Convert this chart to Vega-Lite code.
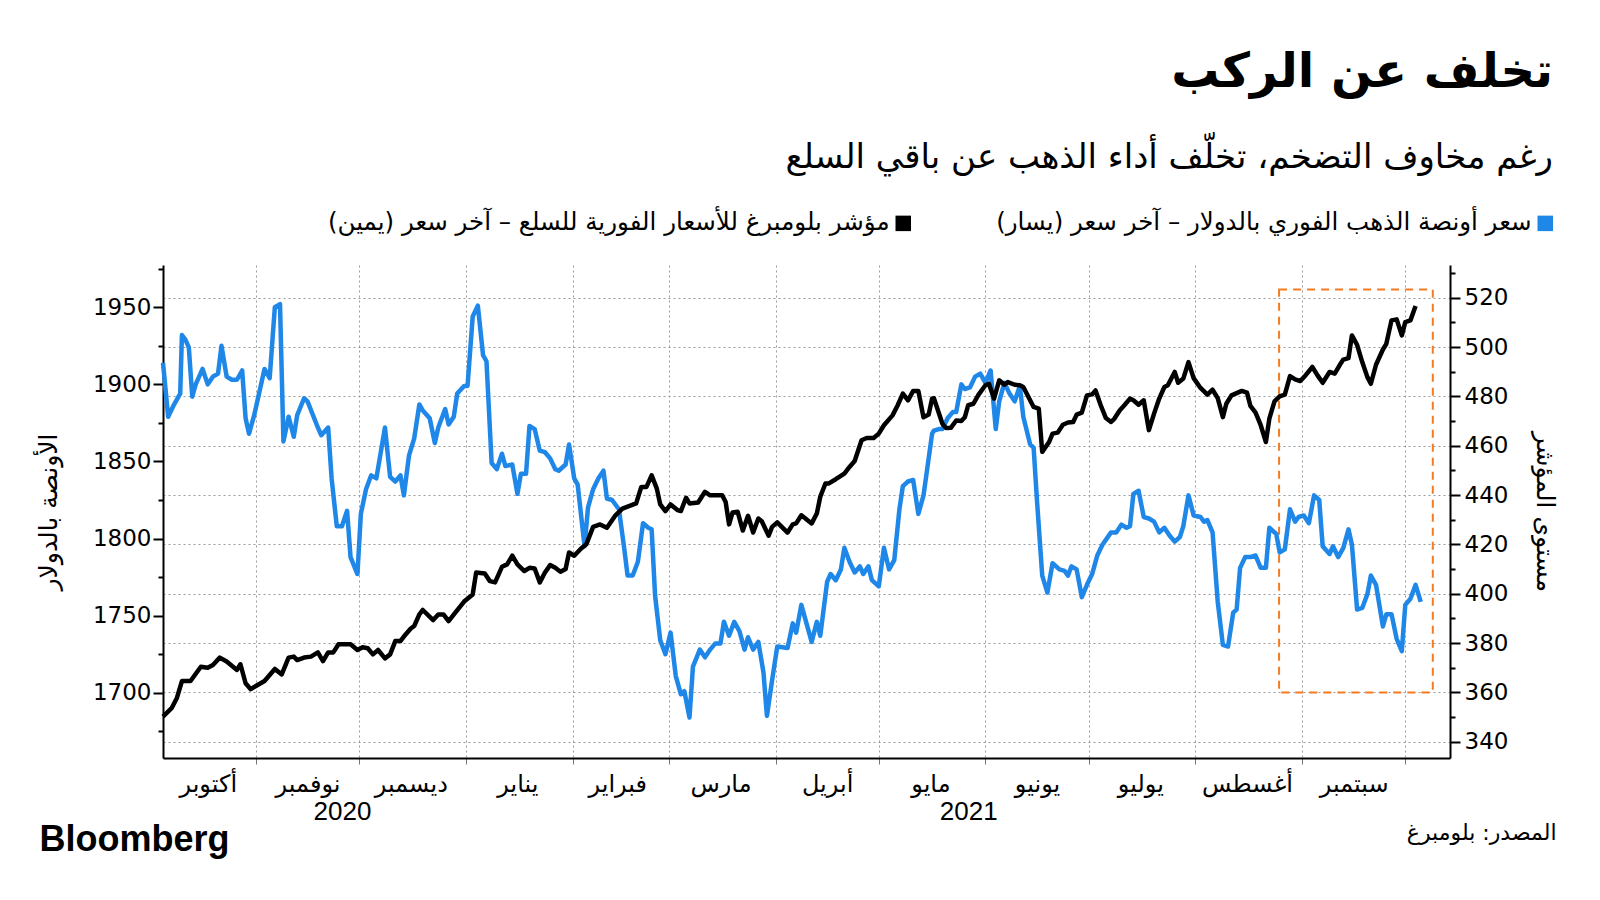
{
"$schema": "https://vega.github.io/schema/vega-lite/v6.json",
"width": 1287, "height": 493,
"autosize": {"type": "none"},
"padding": {"left": 163, "top": 265, "right": 150, "bottom": 142},
"background": "white",
"config": {"view": {"stroke": null}, "font": "DejaVu Sans"},
"title": {"text": "تخلف عن الركب", "subtitle": "رغم مخاوف التضخم، تخلّف أداء الذهب عن باقي السلع", "anchor": "end", "frame": "group", "dx": 103, "offset": 36, "font": "DejaVu Sans", "fontSize": 48, "fontWeight": "bold", "color": "black", "subtitleFont": "DejaVu Sans", "subtitleFontSize": 34, "subtitleColor": "black", "subtitlePadding": 44},
"datasets": {
"box": [{"x1": "2021-08-25T08:00", "x2": "2021-10-09T00:00", "y1": 360, "y2": 523.3}],
"gold": [
{"d":"2020-10-05T00:00","v":1914},{"d":"2020-10-06T12:00","v":1879},{"d":"2020-10-08T00:00","v":1886},{"d":"2020-10-10T00:00","v":1894},{"d":"2020-10-10T12:00","v":1932},{"d":"2020-10-11T12:00","v":1929},{"d":"2020-10-12T12:00","v":1924},{"d":"2020-10-13T12:00","v":1892},{"d":"2020-10-14T12:00","v":1900},{"d":"2020-10-16T12:00","v":1910},{"d":"2020-10-18T00:00","v":1900},{"d":"2020-10-19T12:00","v":1905},{"d":"2020-10-21T00:00","v":1907},{"d":"2020-10-22T00:00","v":1925},{"d":"2020-10-23T12:00","v":1905},{"d":"2020-10-25T00:00","v":1903},{"d":"2020-10-26T12:00","v":1903},{"d":"2020-10-28T00:00","v":1909},{"d":"2020-10-29T00:00","v":1878},{"d":"2020-10-30T00:00","v":1868},{"d":"2020-10-31T12:00","v":1880},{"d":"2020-11-03T12:00","v":1910},{"d":"2020-11-05T00:00","v":1904},{"d":"2020-11-06T12:00","v":1950},{"d":"2020-11-08T00:00","v":1952},{"d":"2020-11-09T00:00","v":1863},{"d":"2020-11-10T12:00","v":1879},{"d":"2020-11-12T00:00","v":1866},{"d":"2020-11-13T00:00","v":1880},{"d":"2020-11-15T00:00","v":1891},{"d":"2020-11-16T00:00","v":1889},{"d":"2020-11-19T00:00","v":1872},{"d":"2020-11-20T00:00","v":1867},{"d":"2020-11-22T00:00","v":1872},{"d":"2020-11-23T00:00","v":1839},{"d":"2020-11-24T12:00","v":1808},{"d":"2020-11-26T00:00","v":1808},{"d":"2020-11-27T12:00","v":1818},{"d":"2020-11-28T12:00","v":1788},{"d":"2020-11-30T12:00","v":1777},{"d":"2020-12-01T12:00","v":1816},{"d":"2020-12-03T00:00","v":1832},{"d":"2020-12-04T12:00","v":1841},{"d":"2020-12-06T00:00","v":1839},{"d":"2020-12-08T12:00","v":1872},{"d":"2020-12-10T00:00","v":1840},{"d":"2020-12-11T12:00","v":1837},{"d":"2020-12-13T00:00","v":1841},{"d":"2020-12-14T00:00","v":1828},{"d":"2020-12-15T12:00","v":1854},{"d":"2020-12-17T00:00","v":1865},{"d":"2020-12-18T12:00","v":1887},
{"d":"2020-12-19T12:00","v":1883},{"d":"2020-12-21T12:00","v":1878},{"d":"2020-12-23T00:00","v":1862},{"d":"2020-12-24T00:00","v":1872},{"d":"2020-12-26T00:00","v":1884},{"d":"2020-12-27T00:00","v":1874},{"d":"2020-12-28T12:00","v":1879},{"d":"2020-12-29T12:00","v":1894},{"d":"2020-12-31T12:00","v":1899},{"d":"2021-01-01T12:00","v":1899},{"d":"2021-01-03T00:00","v":1944},{"d":"2021-01-04T12:00","v":1951},{"d":"2021-01-06T00:00","v":1919},{"d":"2021-01-07T00:00","v":1915},{"d":"2021-01-08T12:00","v":1849},{"d":"2021-01-10T00:00","v":1845},{"d":"2021-01-11T12:00","v":1855},{"d":"2021-01-12T12:00","v":1847},{"d":"2021-01-14T12:00","v":1848},{"d":"2021-01-16T00:00","v":1829},{"d":"2021-01-17T00:00","v":1842},{"d":"2021-01-18T12:00","v":1842},{"d":"2021-01-19T12:00","v":1873},{"d":"2021-01-21T00:00","v":1871},{"d":"2021-01-22T12:00","v":1857},{"d":"2021-01-24T00:00","v":1856},{"d":"2021-01-25T12:00","v":1852},{"d":"2021-01-27T00:00","v":1845},{"d":"2021-01-28T00:00","v":1844},{"d":"2021-01-30T00:00","v":1848},{"d":"2021-01-31T00:00","v":1861},{"d":"2021-02-01T12:00","v":1839},{"d":"2021-02-02T12:00","v":1835},{"d":"2021-02-04T12:00","v":1795},{"d":"2021-02-05T12:00","v":1820},{"d":"2021-02-07T00:00","v":1832},{"d":"2021-02-08T12:00","v":1839},{"d":"2021-02-10T00:00","v":1844},{"d":"2021-02-11T00:00","v":1826},{"d":"2021-02-12T12:00","v":1825},{"d":"2021-02-14T12:00","v":1819},{"d":"2021-02-16T00:00","v":1794},{"d":"2021-02-17T00:00","v":1776},{"d":"2021-02-18T12:00","v":1776},{"d":"2021-02-20T00:00","v":1785},{"d":"2021-02-21T12:00","v":1810},{"d":"2021-02-23T00:00","v":1807},{"d":"2021-02-24T00:00","v":1806},{"d":"2021-02-25T00:00","v":1763},{"d":"2021-02-26T12:00","v":1734},{"d":"2021-02-28T00:00","v":1725},{"d":"2021-03-01T12:00","v":1739},
{"d":"2021-03-03T00:00","v":1711},{"d":"2021-03-04T12:00","v":1699},{"d":"2021-03-05T12:00","v":1701},{"d":"2021-03-07T00:00","v":1684},{"d":"2021-03-08T00:00","v":1717},{"d":"2021-03-10T00:00","v":1728},{"d":"2021-03-11T12:00","v":1723},{"d":"2021-03-13T00:00","v":1728},{"d":"2021-03-14T12:00","v":1732},{"d":"2021-03-16T00:00","v":1732},{"d":"2021-03-17T00:00","v":1746},{"d":"2021-03-18T12:00","v":1737},{"d":"2021-03-20T00:00","v":1746},{"d":"2021-03-21T12:00","v":1740},{"d":"2021-03-23T00:00","v":1728},{"d":"2021-03-24T00:00","v":1736},{"d":"2021-03-25T12:00","v":1728},{"d":"2021-03-27T00:00","v":1733},{"d":"2021-03-28T12:00","v":1713},{"d":"2021-03-29T12:00","v":1685},{"d":"2021-03-31T00:00","v":1708},{"d":"2021-04-01T12:00","v":1730},{"d":"2021-04-04T12:00","v":1729},{"d":"2021-04-06T00:00","v":1745},{"d":"2021-04-07T00:00","v":1739},{"d":"2021-04-08T12:00","v":1757},{"d":"2021-04-10T00:00","v":1745},{"d":"2021-04-11T12:00","v":1733},{"d":"2021-04-13T00:00","v":1746},{"d":"2021-04-14T00:00","v":1737},{"d":"2021-04-16T00:00","v":1772},{"d":"2021-04-17T00:00","v":1777},{"d":"2021-04-18T12:00","v":1773},{"d":"2021-04-20T00:00","v":1780},{"d":"2021-04-21T00:00","v":1794},{"d":"2021-04-22T12:00","v":1785},{"d":"2021-04-24T00:00","v":1778},{"d":"2021-04-25T12:00","v":1782},{"d":"2021-04-26T12:00","v":1777},{"d":"2021-04-28T00:00","v":1782},{"d":"2021-04-29T00:00","v":1773},{"d":"2021-05-01T00:00","v":1769},{"d":"2021-05-02T12:00","v":1794},{"d":"2021-05-04T00:00","v":1780},{"d":"2021-05-05T12:00","v":1786},{"d":"2021-05-07T00:00","v":1819},{"d":"2021-05-08T00:00","v":1834},{"d":"2021-05-09T12:00","v":1837},{"d":"2021-05-11T00:00","v":1838},{"d":"2021-05-12T12:00","v":1816},{"d":"2021-05-14T00:00","v":1828},{"d":"2021-05-15T00:00","v":1844},{"d":"2021-05-16T12:00","v":1868},{"d":"2021-05-17T00:00","v":1870},
{"d":"2021-05-18T12:00","v":1871},{"d":"2021-05-19T12:00","v":1871},{"d":"2021-05-21T00:00","v":1878},{"d":"2021-05-22T12:00","v":1882},{"d":"2021-05-23T12:00","v":1882},{"d":"2021-05-25T00:00","v":1900},{"d":"2021-05-26T00:00","v":1897},{"d":"2021-05-27T12:00","v":1898},{"d":"2021-05-29T00:00","v":1905},{"d":"2021-05-30T12:00","v":1907},{"d":"2021-06-01T00:00","v":1901},{"d":"2021-06-02T12:00","v":1909},{"d":"2021-06-04T00:00","v":1871},{"d":"2021-06-05T00:00","v":1889},{"d":"2021-06-06T12:00","v":1901},{"d":"2021-06-08T00:00","v":1894},{"d":"2021-06-09T12:00","v":1889},{"d":"2021-06-11T00:00","v":1899},{"d":"2021-06-12T00:00","v":1879},{"d":"2021-06-14T00:00","v":1861},{"d":"2021-06-15T00:00","v":1859},{"d":"2021-06-16T00:00","v":1824},{"d":"2021-06-17T12:00","v":1776},{"d":"2021-06-19T00:00","v":1765},{"d":"2021-06-20T12:00","v":1784},{"d":"2021-06-22T12:00","v":1780},{"d":"2021-06-24T00:00","v":1779},{"d":"2021-06-25T00:00","v":1776},{"d":"2021-06-26T00:00","v":1782},{"d":"2021-06-27T12:00","v":1780},{"d":"2021-06-29T00:00","v":1762},{"d":"2021-06-30T12:00","v":1770},{"d":"2021-07-02T00:00","v":1777},{"d":"2021-07-03T12:00","v":1789},{"d":"2021-07-05T00:00","v":1796},{"d":"2021-07-07T12:00","v":1804},{"d":"2021-07-09T00:00","v":1804},{"d":"2021-07-10T12:00","v":1809},{"d":"2021-07-12T00:00","v":1807},{"d":"2021-07-13T00:00","v":1808},{"d":"2021-07-14T00:00","v":1829},{"d":"2021-07-15T12:00","v":1831},{"d":"2021-07-17T00:00","v":1814},{"d":"2021-07-18T12:00","v":1813},{"d":"2021-07-20T00:00","v":1811},{"d":"2021-07-21T12:00","v":1804},{"d":"2021-07-23T00:00","v":1807},{"d":"2021-07-24T12:00","v":1802},{"d":"2021-07-26T00:00","v":1798},{"d":"2021-07-27T12:00","v":1801},{"d":"2021-07-28T12:00","v":1808},{"d":"2021-07-30T00:00","v":1828},
{"d":"2021-07-31T12:00","v":1815},{"d":"2021-08-02T12:00","v":1814},{"d":"2021-08-03T12:00","v":1811},{"d":"2021-08-04T12:00","v":1812},{"d":"2021-08-06T00:00","v":1804},{"d":"2021-08-07T12:00","v":1759},{"d":"2021-08-09T00:00","v":1731},{"d":"2021-08-10T12:00","v":1730},{"d":"2021-08-12T00:00","v":1752},{"d":"2021-08-13T00:00","v":1754},{"d":"2021-08-14T00:00","v":1781},{"d":"2021-08-15T12:00","v":1788},{"d":"2021-08-17T00:00","v":1788},{"d":"2021-08-18T12:00","v":1789},{"d":"2021-08-20T00:00","v":1781},{"d":"2021-08-21T12:00","v":1781},{"d":"2021-08-22T12:00","v":1807},{"d":"2021-08-24T12:00","v":1803},{"d":"2021-08-25T12:00","v":1791},{"d":"2021-08-27T00:00","v":1793},{"d":"2021-08-28T12:00","v":1819},{"d":"2021-08-30T00:00","v":1811},{"d":"2021-08-31T00:00","v":1814},{"d":"2021-09-01T12:00","v":1815},{"d":"2021-09-03T00:00","v":1810},{"d":"2021-09-04T12:00","v":1828},{"d":"2021-09-06T00:00","v":1825},{"d":"2021-09-07T00:00","v":1795},{"d":"2021-09-09T00:00","v":1790},{"d":"2021-09-10T00:00","v":1795},{"d":"2021-09-11T12:00","v":1788},{"d":"2021-09-13T00:00","v":1794},{"d":"2021-09-14T12:00","v":1806},{"d":"2021-09-15T12:00","v":1796},{"d":"2021-09-17T00:00","v":1754},{"d":"2021-09-18T12:00","v":1755},{"d":"2021-09-20T00:00","v":1764},{"d":"2021-09-21T00:00","v":1776},{"d":"2021-09-22T12:00","v":1770},{"d":"2021-09-24T12:00","v":1743},{"d":"2021-09-25T12:00","v":1751},{"d":"2021-09-27T00:00","v":1751},{"d":"2021-09-28T12:00","v":1735},{"d":"2021-09-30T00:00","v":1727},{"d":"2021-10-01T00:00","v":1757},{"d":"2021-10-02T12:00","v":1761},{"d":"2021-10-04T00:00","v":1770},{"d":"2021-10-05T12:00","v":1759}
],
"cmdty": [
{"d":"2020-10-05T00:00","v":350.2},{"d":"2020-10-07T12:00","v":353.6},{"d":"2020-10-09T00:00","v":357.6},{"d":"2020-10-10T12:00","v":364.6},{"d":"2020-10-13T00:00","v":364.6},{"d":"2020-10-16T00:00","v":370.4},{"d":"2020-10-18T00:00","v":370.0},{"d":"2020-10-19T12:00","v":371.1},{"d":"2020-10-21T12:00","v":374.1},{"d":"2020-10-23T12:00","v":372.5},{"d":"2020-10-26T12:00","v":369.1},{"d":"2020-10-27T12:00","v":371.4},{"d":"2020-10-29T00:00","v":363.7},{"d":"2020-10-30T12:00","v":361.3},{"d":"2020-11-01T12:00","v":363.0},{"d":"2020-11-03T12:00","v":364.6},{"d":"2020-11-06T12:00","v":369.5},{"d":"2020-11-08T12:00","v":367.3},{"d":"2020-11-10T12:00","v":374.1},{"d":"2020-11-12T00:00","v":374.5},{"d":"2020-11-13T00:00","v":373.1},{"d":"2020-11-15T00:00","v":374.1},{"d":"2020-11-17T00:00","v":374.5},{"d":"2020-11-19T00:00","v":376.2},{"d":"2020-11-20T12:00","v":372.7},{"d":"2020-11-22T00:00","v":376.2},{"d":"2020-11-23T12:00","v":376.2},{"d":"2020-11-25T00:00","v":379.5},{"d":"2020-11-28T12:00","v":379.5},{"d":"2020-11-30T12:00","v":377.2},{"d":"2020-12-02T00:00","v":378.3},{"d":"2020-12-03T12:00","v":377.9},{"d":"2020-12-05T00:00","v":375.4},{"d":"2020-12-06T12:00","v":377.2},{"d":"2020-12-08T12:00","v":373.8},{"d":"2020-12-10T00:00","v":375.4},{"d":"2020-12-11T12:00","v":380.8},{"d":"2020-12-13T00:00","v":380.8},{"d":"2020-12-14T12:00","v":383.5},{"d":"2020-12-16T00:00","v":385.9},{"d":"2020-12-17T00:00","v":386.9},{"d":"2020-12-18T12:00","v":391.6},
{"d":"2020-12-19T12:00","v":393.4},{"d":"2020-12-22T12:00","v":389.3},{"d":"2020-12-24T00:00","v":391.6},{"d":"2020-12-25T12:00","v":391.6},{"d":"2020-12-27T00:00","v":388.9},{"d":"2020-12-29T00:00","v":392.4},{"d":"2020-12-31T12:00","v":396.8},{"d":"2021-01-03T00:00","v":399.7},{"d":"2021-01-04T00:00","v":408.6},{"d":"2021-01-06T12:00","v":408.2},{"d":"2021-01-08T00:00","v":405.1},{"d":"2021-01-09T12:00","v":404.6},{"d":"2021-01-11T12:00","v":410.9},{"d":"2021-01-13T00:00","v":411.9},{"d":"2021-01-14T12:00","v":415.4},{"d":"2021-01-16T00:00","v":411.9},{"d":"2021-01-18T00:00","v":409.2},{"d":"2021-01-19T12:00","v":410.5},{"d":"2021-01-21T00:00","v":410.2},{"d":"2021-01-22T12:00","v":404.6},{"d":"2021-01-24T00:00","v":408.6},{"d":"2021-01-25T12:00","v":411.6},{"d":"2021-01-27T00:00","v":410.5},{"d":"2021-01-28T12:00","v":408.9},{"d":"2021-01-30T00:00","v":410.0},{"d":"2021-01-31T00:00","v":416.7},{"d":"2021-02-01T12:00","v":415.4},{"d":"2021-02-03T12:00","v":418.3},{"d":"2021-02-05T00:00","v":420.0},{"d":"2021-02-07T00:00","v":427.1},{"d":"2021-02-09T00:00","v":428.1},{"d":"2021-02-11T00:00","v":426.7},{"d":"2021-02-13T12:00","v":431.8},{"d":"2021-02-15T12:00","v":434.5},{"d":"2021-02-19T12:00","v":436.6},{"d":"2021-02-21T00:00","v":443.3},{"d":"2021-02-22T12:00","v":443.3},{"d":"2021-02-24T00:00","v":448.0},{"d":"2021-02-25T12:00","v":442.6},{"d":"2021-02-26T12:00","v":436.2},{"d":"2021-02-28T00:00","v":433.5},{"d":"2021-03-01T12:00","v":436.2},{"d":"2021-03-03T12:00","v":433.9},
{"d":"2021-03-04T12:00","v":433.5},{"d":"2021-03-06T00:00","v":438.9},{"d":"2021-03-07T00:00","v":436.6},{"d":"2021-03-09T12:00","v":437.0},{"d":"2021-03-11T12:00","v":441.3},{"d":"2021-03-13T00:00","v":439.9},{"d":"2021-03-16T12:00","v":439.9},{"d":"2021-03-17T12:00","v":437.2},{"d":"2021-03-18T12:00","v":428.1},{"d":"2021-03-19T12:00","v":432.9},{"d":"2021-03-21T00:00","v":433.2},{"d":"2021-03-22T12:00","v":425.6},{"d":"2021-03-24T00:00","v":431.6},{"d":"2021-03-25T12:00","v":424.8},{"d":"2021-03-27T00:00","v":430.5},{"d":"2021-03-28T00:00","v":429.4},{"d":"2021-03-30T00:00","v":423.5},{"d":"2021-03-31T00:00","v":427.1},{"d":"2021-04-01T12:00","v":428.9},{"d":"2021-04-04T12:00","v":424.8},{"d":"2021-04-06T00:00","v":428.1},{"d":"2021-04-07T00:00","v":428.5},{"d":"2021-04-08T12:00","v":431.8},{"d":"2021-04-11T12:00","v":428.5},{"d":"2021-04-13T00:00","v":432.5},{"d":"2021-04-14T00:00","v":439.3},{"d":"2021-04-15T12:00","v":444.7},{"d":"2021-04-16T12:00","v":444.7},{"d":"2021-04-18T12:00","v":446.4},{"d":"2021-04-21T00:00","v":448.7},{"d":"2021-04-22T12:00","v":451.4},{"d":"2021-04-24T00:00","v":453.8},{"d":"2021-04-26T00:00","v":462.2},{"d":"2021-04-27T12:00","v":463.1},{"d":"2021-04-29T12:00","v":463.1},{"d":"2021-05-01T00:00","v":464.9},{"d":"2021-05-02T12:00","v":468.3},{"d":"2021-05-05T00:00","v":472.3},{"d":"2021-05-06T12:00","v":476.4},{"d":"2021-05-08T00:00","v":481.1},{"d":"2021-05-09T12:00","v":478.4},{"d":"2021-05-11T00:00","v":482.2},{"d":"2021-05-12T12:00","v":482.2},{"d":"2021-05-14T00:00","v":471.5},{"d":"2021-05-15T12:00","v":472.6},{"d":"2021-05-16T12:00","v":479.1},{"d":"2021-05-17T00:00","v":479.3},
{"d":"2021-05-19T12:00","v":468.9},{"d":"2021-05-20T12:00","v":467.2},{"d":"2021-05-22T00:00","v":467.3},{"d":"2021-05-23T12:00","v":470.2},{"d":"2021-05-25T00:00","v":470.0},{"d":"2021-05-26T00:00","v":471.5},{"d":"2021-05-27T00:00","v":476.4},{"d":"2021-05-28T12:00","v":477.0},{"d":"2021-05-30T00:00","v":480.7},{"d":"2021-06-01T00:00","v":484.5},{"d":"2021-06-02T00:00","v":485.1},{"d":"2021-06-03T12:00","v":479.1},{"d":"2021-06-05T00:00","v":486.5},{"d":"2021-06-06T12:00","v":484.7},{"d":"2021-06-07T12:00","v":485.8},{"d":"2021-06-09T12:00","v":484.7},{"d":"2021-06-11T00:00","v":484.5},{"d":"2021-06-12T00:00","v":483.8},{"d":"2021-06-13T12:00","v":479.7},{"d":"2021-06-15T00:00","v":475.7},{"d":"2021-06-16T12:00","v":475.0},{"d":"2021-06-17T12:00","v":457.5},{"d":"2021-06-19T12:00","v":461.5},{"d":"2021-06-20T12:00","v":464.9},{"d":"2021-06-22T00:00","v":465.3},{"d":"2021-06-23T12:00","v":468.5},{"d":"2021-06-25T00:00","v":469.4},{"d":"2021-06-26T12:00","v":469.6},{"d":"2021-06-27T12:00","v":472.6},{"d":"2021-06-29T00:00","v":473.4},{"d":"2021-06-30T12:00","v":480.4},{"d":"2021-07-02T00:00","v":480.8},{"d":"2021-07-03T00:00","v":482.4},{"d":"2021-07-04T12:00","v":476.4},{"d":"2021-07-06T00:00","v":471.2},{"d":"2021-07-07T12:00","v":469.6},{"d":"2021-07-08T12:00","v":471.0},{"d":"2021-07-10T00:00","v":474.3},{"d":"2021-07-11T12:00","v":476.6},{"d":"2021-07-13T00:00","v":479.1},{"d":"2021-07-14T00:00","v":478.4},{"d":"2021-07-15T12:00","v":476.6},{"d":"2021-07-17T00:00","v":478.4},{"d":"2021-07-18T12:00","v":466.3},{"d":"2021-07-20T00:00","v":473.0},{"d":"2021-07-21T12:00","v":479.1},{"d":"2021-07-23T00:00","v":483.8},{"d":"2021-07-24T00:00","v":484.5},{"d":"2021-07-26T00:00","v":489.9},{"d":"2021-07-27T00:00","v":485.5},{"d":"2021-07-28T12:00","v":487.2},{"d":"2021-07-30T00:00","v":493.9},
{"d":"2021-07-31T12:00","v":487.4},{"d":"2021-08-02T12:00","v":483.4},{"d":"2021-08-04T12:00","v":480.7},{"d":"2021-08-06T00:00","v":482.7},{"d":"2021-08-07T12:00","v":479.3},{"d":"2021-08-09T00:00","v":471.6},{"d":"2021-08-10T00:00","v":477.0},{"d":"2021-08-11T12:00","v":480.4},{"d":"2021-08-14T12:00","v":482.2},{"d":"2021-08-16T00:00","v":481.5},{"d":"2021-08-17T00:00","v":476.1},{"d":"2021-08-18T12:00","v":473.4},{"d":"2021-08-20T00:00","v":468.3},{"d":"2021-08-21T12:00","v":461.5},{"d":"2021-08-22T12:00","v":471.0},{"d":"2021-08-24T00:00","v":478.0},{"d":"2021-08-25T12:00","v":480.0},{"d":"2021-08-27T00:00","v":480.7},{"d":"2021-08-28T12:00","v":488.2},{"d":"2021-08-30T00:00","v":486.9},{"d":"2021-08-31T12:00","v":486.2},{"d":"2021-09-02T00:00","v":488.5},{"d":"2021-09-04T00:00","v":491.9},{"d":"2021-09-05T12:00","v":488.5},{"d":"2021-09-07T00:00","v":485.5},{"d":"2021-09-09T00:00","v":489.9},{"d":"2021-09-10T12:00","v":489.2},{"d":"2021-09-12T00:00","v":492.8},{"d":"2021-09-13T00:00","v":494.9},{"d":"2021-09-14T12:00","v":495.5},{"d":"2021-09-15T12:00","v":504.7},{"d":"2021-09-17T00:00","v":500.9},{"d":"2021-09-18T12:00","v":493.9},{"d":"2021-09-20T00:00","v":487.8},{"d":"2021-09-21T00:00","v":485.1},{"d":"2021-09-22T12:00","v":492.8},{"d":"2021-09-24T12:00","v":499.0},{"d":"2021-09-25T12:00","v":501.3},{"d":"2021-09-27T00:00","v":510.8},{"d":"2021-09-28T12:00","v":511.2},{"d":"2021-09-30T00:00","v":504.7},{"d":"2021-10-01T00:00","v":510.1},{"d":"2021-10-02T12:00","v":510.8},{"d":"2021-10-04T00:00","v":516.6}
]
},
"layer": [
{"data": {"name": "box"},
 "mark": {"type": "rect", "filled": false, "stroke": "#f47b20", "strokeWidth": 2, "strokeDash": [8, 6]},
 "encoding": {
  "x": {"field": "x1", "type": "temporal", "scale": {"domain": [{"year": 2020, "month": 10, "date": 5}, {"year": 2021, "month": 10, "date": 14}]},
        "axis": {"orient": "bottom", "values": [{"year": 2020, "month": 11, "date": 26}, {"year": 2021, "month": 5, "date": 27}], "format": "%Y", "grid": false, "ticks": false, "tickSize": 0, "domain": false, "labelPadding": 53, "labelBaseline": "middle", "labelFont": "Liberation Sans", "labelFontSize": 26, "labelColor": "black", "labelFlush": false, "labelOverlap": false, "title": null}},
  "x2": {"field": "x2"},
  "y": {"field": "y1", "type": "quantitative", "scale": {"domain": [333.4, 533.25], "nice": false, "zero": false}, "axis": null},
  "y2": {"field": "y2"}
 }},
{"data": {"name": "gold"},
 "mark": {"type": "line", "strokeWidth": 4.5, "strokeJoin": "round"},
 "encoding": {
  "x": {"field": "d", "type": "temporal", "scale": {"domain": [{"year": 2020, "month": 10, "date": 5}, {"year": 2021, "month": 10, "date": 14}]},
        "axis": {"orient": "bottom", "values": [{"year": 2020, "month": 11, "date": 1}, {"year": 2020, "month": 12, "date": 1}, {"year": 2021, "month": 1, "date": 1}, {"year": 2021, "month": 2, "date": 1}, {"year": 2021, "month": 3, "date": 1}, {"year": 2021, "month": 4, "date": 1}, {"year": 2021, "month": 5, "date": 1}, {"year": 2021, "month": 6, "date": 1}, {"year": 2021, "month": 7, "date": 1}, {"year": 2021, "month": 8, "date": 1}, {"year": 2021, "month": 9, "date": 1}, {"year": 2021, "month": 10, "date": 1}],
                 "labels": false, "grid": true, "gridColor": "#9a9a9a", "gridDash": [2, 3], "gridWidth": 1, "ticks": true, "tickSize": 6, "tickColor": "#777777", "tickWidth": 1, "domain": true, "domainColor": "black", "domainWidth": 2,
                 "title": "Bloomberg", "titleX": -124, "titleY": 81, "titleAlign": "left", "titleBaseline": "middle", "titleFont": "Liberation Sans", "titleFontSize": 36, "titleFontWeight": "bold", "titleColor": "black"}},
  "y": {"field": "v", "type": "quantitative", "scale": {"domain": [1657.7, 1977.4], "nice": false, "zero": false},
        "axis": {"orient": "left", "values": [1675, 1700, 1725, 1750, 1775, 1800, 1825, 1850, 1875, 1900, 1925, 1950, 1975], "format": "d",
                 "labelExpr": "datum.value % 50 === 0 ? datum.label : ''",
                 "tickSize": {"condition": {"test": "datum.value % 50 === 0", "value": 10}, "value": 5},
                 "tickColor": "black", "tickWidth": 2, "domainColor": "black", "domainWidth": 2, "grid": false,
                 "labelFont": "DejaVu Sans", "labelFontSize": 23, "labelColor": "black", "labelPadding": 2,
                 "title": "الأونصة بالدولار", "titleFont": "DejaVu Sans", "titleFontSize": 25, "titleFontWeight": "normal", "titleColor": "black", "titlePadding": 31}},
  "color": {"datum": "سعر أونصة الذهب الفوري بالدولار – آخر سعر (يسار)‏", "type": "nominal",
            "scale": {"domain": ["مؤشر بلومبرغ للأسعار الفورية للسلع – آخر سعر (يمين)‏", "سعر أونصة الذهب الفوري بالدولار – آخر سعر (يسار)‏"], "range": ["#000000", "#1f87e8"]},
            "legend": {"orient": "none", "legendX": 728, "legendY": -54, "direction": "horizontal", "title": null, "symbolType": "square", "symbolSize": 240, "symbolStrokeWidth": 0,
                       "labelFont": "DejaVu Sans", "labelFontSize": 24.5, "labelColor": "black", "labelLimit": 0, "labelAlign": "right", "labelOffset": -26, "columnPadding": 85,
                       "encode": {"symbols": {"update": {"fill": {"scale": "color", "field": "value"}, "fillOpacity": {"value": 1}, "strokeWidth": {"value": 0}}}}}}
 }},
{"data": {"name": "cmdty"},
 "mark": {"type": "line", "strokeWidth": 4.5, "strokeJoin": "round"},
 "encoding": {
  "x": {"field": "d", "type": "temporal", "scale": {"domain": [{"year": 2020, "month": 10, "date": 5}, {"year": 2021, "month": 10, "date": 14}]},
        "axis": {"orient": "bottom", "values": [{"year": 2020, "month": 10, "date": 18}, {"year": 2020, "month": 11, "date": 16}, {"year": 2020, "month": 12, "date": 16}, {"year": 2021, "month": 1, "date": 16}, {"year": 2021, "month": 2, "date": 14}, {"year": 2021, "month": 3, "date": 16}, {"year": 2021, "month": 4, "date": 16}, {"year": 2021, "month": 5, "date": 16}, {"year": 2021, "month": 6, "date": 16}, {"year": 2021, "month": 7, "date": 16}, {"year": 2021, "month": 8, "date": 16}, {"year": 2021, "month": 9, "date": 16}],
                 "labelExpr": "['يناير','فبراير','مارس','أبريل','مايو','يونيو','يوليو','أغسطس','سبتمبر','أكتوبر','نوفمبر','ديسمبر'][month(datum.value)]",
                 "grid": false, "ticks": false, "tickSize": 0, "domain": false, "labelPadding": 26, "labelBaseline": "middle", "labelFont": "DejaVu Sans", "labelFontSize": 24, "labelColor": "black", "labelFlush": false, "labelOverlap": false,
                 "title": "المصدر: بلومبرغ", "titleX": 1393, "titleY": 74, "titleAlign": "right", "titleBaseline": "middle", "titleFont": "DejaVu Sans", "titleFontSize": 22, "titleFontWeight": "normal", "titleColor": "black"}},
  "y": {"field": "v", "type": "quantitative", "scale": {"domain": [333.4, 533.25], "nice": false, "zero": false},
        "axis": {"orient": "right", "values": [340, 350, 360, 370, 380, 390, 400, 410, 420, 430, 440, 450, 460, 470, 480, 490, 500, 510, 520, 530], "format": "d",
                 "labelExpr": "datum.value % 20 === 0 ? datum.label : ''",
                 "tickSize": {"condition": {"test": "datum.value % 20 === 0", "value": 10}, "value": 5},
                 "tickColor": "black", "tickWidth": 2, "domainColor": "black", "domainWidth": 2,
                 "grid": true, "gridColor": "#9a9a9a", "gridDash": [2, 3], "gridWidth": 1,
                 "gridOpacity": {"condition": {"test": "datum.value % 20 === 0", "value": 1}, "value": 0},
                 "labelFont": "DejaVu Sans", "labelFontSize": 23, "labelColor": "black", "labelPadding": 4,
                 "title": "مستوى المؤشر", "titleFont": "DejaVu Sans", "titleFontSize": 25, "titleFontWeight": "normal", "titleColor": "black", "titlePadding": 24}},
  "color": {"datum": "مؤشر بلومبرغ للأسعار الفورية للسلع – آخر سعر (يمين)‏", "type": "nominal"}
 }}
],
"resolve": {"scale": {"y": "independent"}, "axis": {"x": "independent", "y": "independent"}}
}
